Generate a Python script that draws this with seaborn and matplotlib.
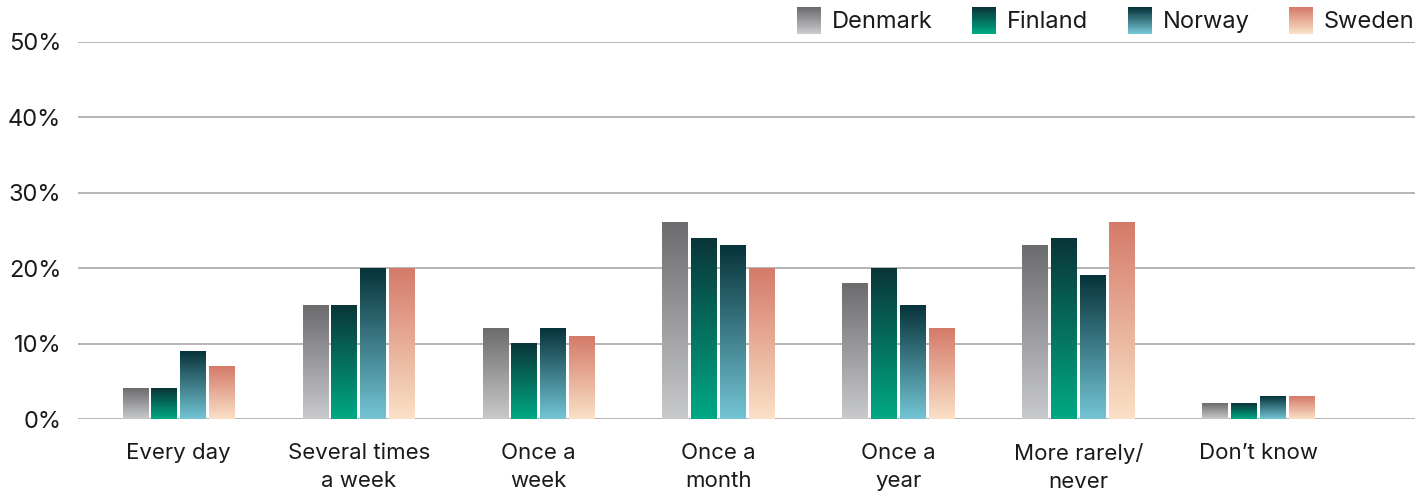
import numpy as np
import pandas as pd
import matplotlib
matplotlib.use("Agg")
import matplotlib.pyplot as plt
import seaborn as sns
from matplotlib.colors import LinearSegmentedColormap, to_rgb
from matplotlib.patches import Rectangle
from matplotlib.legend_handler import HandlerBase

categories = ["Every day", "Several times\na week", "Once a\nweek", "Once a\nmonth",
              "Once a\nyear", "More rarely/\nnever", "Don\u2019t know"]
countries = ["Denmark", "Finland", "Norway", "Sweden"]
denmark = [4, 15, 12, 26, 18, 23, 2]
finland = [4, 15, 10, 24, 20, 24, 2]
norway = [9, 20, 12, 23, 15, 19, 3]
sweden = [7, 20, 11, 20, 12, 26, 3]
yticks = [0, 10, 20, 30, 40, 50]

# gradient colours (top, bottom)
grad = {
    "Denmark": ("#6c6c6e", "#c9cacc"),
    "Finland": ("#0a3538", "#00a984"),
    "Norway": ("#07333a", "#74c5d5"),
    "Sweden": ("#d57a69", "#fae1c7"),
}

sns.set_theme(style="white")
plt.rcParams['font.family'] = ['Inter', 'DejaVu Sans']

rows = []
for c, vals in zip(countries, [denmark, finland, norway, sweden]):
    for cat, v in zip(categories, vals):
        rows.append({"category": cat, "country": c, "value": v})
df = pd.DataFrame(rows)

fig = plt.figure(figsize=(14.19, 4.99), dpi=100)
ax = fig.add_axes([78/1419, 1 - 419/499, (1415-78)/1419, (419-42)/499])

palette = {c: grad[c][1] for c in countries}
sns.barplot(data=df, x="category", y="value", hue="country", palette=palette,
            width=0.64, gap=0.1, legend=False, ax=ax, order=categories,
            hue_order=countries, saturation=1)

bottoms = {c: np.array(to_rgb(grad[c][1])) for c in countries}
cmaps = {c: LinearSegmentedColormap.from_list(c, [grad[c][1], grad[c][0]]) for c in countries}
g = np.linspace(0, 1, 256).reshape(-1, 1)
for p in list(ax.patches):
    fc = np.array(p.get_facecolor()[:3])
    c = min(countries, key=lambda k: np.sum((bottoms[k] - fc) ** 2))
    x, y = p.get_x(), p.get_y()
    w, h = p.get_width(), p.get_height()
    if h <= 0:
        continue
    ax.imshow(g, extent=[x, x + w, y, y + h], origin="lower", aspect="auto",
              cmap=cmaps[c], zorder=3, interpolation="bilinear")
    p.set_visible(False)

ax.set_xlim(-0.56, 6.87)
ax.set_ylim(0, 50)
ax.set_yticks(yticks)
ax.set_yticklabels([f"{t}%" for t in yticks])
ax.yaxis.grid(True, color="#b0b0b0", linewidth=1.3, zorder=0)
ax.set_axisbelow(True)
for s in ax.spines.values():
    s.set_visible(False)
ax.set_xlabel("")
ax.set_ylabel("")
ax.tick_params(axis="y", length=0, pad=12, labelsize=17, labelcolor="#1a1a1a")
ax.tick_params(axis="x", length=0, pad=17, labelsize=16, labelcolor="#1a1a1a")
for lab in ax.get_xticklabels():
    lab.set_linespacing(1.5)


class GradHandler(HandlerBase):
    def __init__(self, top, bottom, n=30):
        super().__init__()
        self.top, self.bottom, self.n = to_rgb(top), to_rgb(bottom), n

    def create_artists(self, legend, orig_handle, xdescent, ydescent, width, height, fontsize, trans):
        arts = []
        n = self.n
        for i in range(n):
            t = i / (n - 1)
            col = tuple(np.array(self.bottom) * (1 - t) + np.array(self.top) * t)
            r = Rectangle((-xdescent, -ydescent + height * i / n), width, height / n + 0.3,
                          facecolor=col, edgecolor="none", transform=trans)
            arts.append(r)
        return arts


handles = [Rectangle((0, 0), 1, 1) for _ in countries]
hmap = {h: GradHandler(*grad[c]) for h, c in zip(handles, countries)}
leg = fig.legend(handles, countries, handler_map=hmap, loc="upper right",
                 bbox_to_anchor=(1.0, 0.995), ncol=4, frameon=False, fontsize=17,
                 handlelength=1.02, handleheight=1.35, handletextpad=0.45,
                 columnspacing=1.68, borderaxespad=0.0, borderpad=0.2)
for t in leg.get_texts():
    t.set_color("#1a1a1a")

fig.savefig("out.png", dpi=100)
